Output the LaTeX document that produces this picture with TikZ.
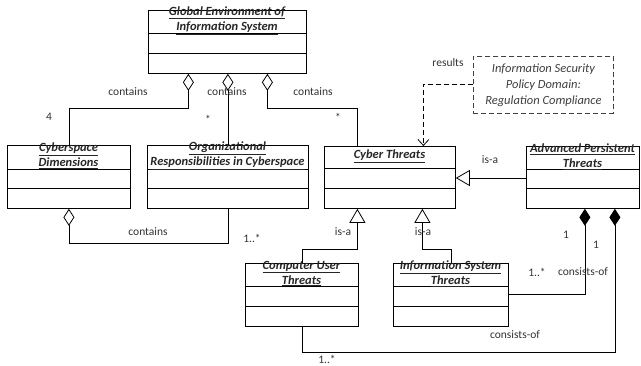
\documentclass[tikz,border=0pt]{standalone}
\usepackage{fontspec}
\setmainfont{Carlito}
\usetikzlibrary{arrows.meta,calc}
\tikzset{
  box/.style={draw, line width=0.8pt, anchor=north west, inner sep=0pt},
  cname/.style={font=\fontsize{12.5}{15}\selectfont\bfseries\itshape, align=center, inner sep=0pt, text=black!85},
  lbl/.style={font=\fontsize{11.5}{12}\selectfont, text=black!80, inner sep=0pt},
  conn/.style={line width=0.8pt},
  aggr/.style={conn, -{Diamond[open, length=17pt, width=11pt, line width=0.8pt]}},
  comp/.style={conn, -{Diamond[length=17pt, width=11pt]}},
  gen/.style={conn, -{Triangle[open, length=14pt, width=16pt, line width=0.8pt]}},
  dep/.style={conn, dashed, dash pattern=on 5pt off 3pt, -{Straight Barb[length=6pt, width=11pt, line width=0.8pt]}},
}
\newcommand\classbox[8]{%
  % #1 name, #2 x1, #3 y1, #4 x2, #5 y2, #6 div1, #7 div2, #8 title
  \node[box, minimum width={(#4-#2)*1pt}, minimum height={(#5-#3)*1pt}] (#1) at (#2,#3) {};
  \draw[conn] (#2,#6) -- (#4,#6);
  \draw[conn] (#2,#7) -- (#4,#7);
  \node[cname] (#1t) at ({(#2+#4)/2},{(#3+#6)/2-1}) {#8};
}
\begin{document}
\begin{tikzpicture}[x=1pt,y=-1pt]
\useasboundingbox (0,0) rectangle (641,365);
\fill[white] (0,0) rectangle (641,365);

\classbox{ge}{148}{10}{306}{73}{33}{53}{\underline{Global Environment of}\\\underline{Information System}}
\classbox{cd}{7}{145}{130}{208}{169}{188}{\underline{Cyberspace}\\\underline{Dimensions}}
\classbox{org}{147}{145}{308}{208}{169}{188}{\underline{Organizational}\\\underline{Responsibilities in Cyberspace}}
\classbox{ct}{324}{146}{455}{208}{168}{188}{\underline{Cyber Threats}}
\classbox{apt}{526}{146}{639}{208}{169}{188}{\underline{Advanced Persistent}\\\underline{Threats}}
\classbox{cut}{245}{263}{358}{326}{286}{306}{\underline{Computer User}\\\underline{Threats}}
\classbox{ist}{393}{263}{508}{326}{286}{306}{\underline{Information System}\\\underline{Threats}}

\node[draw=black!75, dashed, dash pattern=on 5pt off 3pt, line width=0.8pt, minimum width=140pt, minimum height=57pt, anchor=north west,
  font=\fontsize{12.5}{16}\selectfont\itshape, text=black!75, align=center, inner sep=0pt] (note) at (473,56)
  {Information Security\\Policy Domain:\\Regulation Compliance};

% aggregations
\draw[aggr] (cd.north) -- (cd.north |- 0,108) -| ([xshift=-39pt]ge.south);
\draw[aggr] (org.north) -- (org.north |- ge.south);
\draw[aggr] ([xshift=-32.5pt]ct.north) -- ++(0,-38) -| ([xshift=40pt]ge.south);
\draw[aggr] (org.south) -- ++(0,35) -| (cd.south);

% generalizations
\draw[gen] (apt.west |- 0,178) -- (ct.east |- 0,178);
\draw[gen] (cut.north) -- ++(0,-14) -| ([xshift=-32.5pt]ct.south);
\draw[gen] (ist.north) -- ++(0,-14) -| ([xshift=32.5pt]ct.south);

% compositions
\draw[comp] (ist.east |- 0,294) -| ([xshift=2pt]apt.south);
\draw[comp] (cut.south) -- ++(0,26) -| ([xshift=32pt]apt.south);

% dependency
\draw[dep] (note.west |- 0,84) -| ([xshift=33.5pt]ct.north);

% labels
\node[lbl] (l1) at (128,92) {contains};
\node[lbl] (l2) at (227,92) {contains};
\node[lbl] (l3) at (313,92) {contains};
\node[lbl] (m1) at (49,117) {4};
\node[lbl] (m2) at (208,119) {*};
\node[lbl] (m3) at (338,117) {*};
\node[lbl] (l4) at (148,232) {contains};
\node[lbl] (m4) at (252,238) {1..*};
\node[lbl] (l5) at (490,160) {is-a};
\node[lbl] (l6) at (343,232) {is-a};
\node[lbl] (l7) at (423,232) {is-a};
\node[lbl] (l8) at (448,63) {results};
\node[lbl] (m5) at (566,235) {1};
\node[lbl] (m6) at (596,245) {1};
\node[lbl] (m7) at (537,272) {1..*};
\node[lbl] (l9) at (583,272) {consists-of};
\node[lbl] (l10) at (515,335) {consists-of};
\node[lbl] (m8) at (327,359) {1..*};
\end{tikzpicture}
\end{document}
